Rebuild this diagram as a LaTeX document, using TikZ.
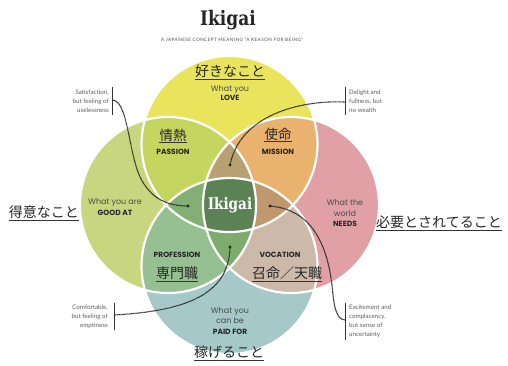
\documentclass[tikz,border=0pt]{standalone}
\usepackage{fontspec}
\newfontfamily\pop{Poppins}
\newfontfamily\jp{Noto Sans CJK JP}
\newfontfamily\lat{Lato}
\newfontfamily\slab{DejaVu Serif}
\definecolor{cTop}{RGB}{233,228,92}
\definecolor{cLeft}{RGB}{200,214,128}
\definecolor{cRight}{RGB}{224,160,165}
\definecolor{cBot}{RGB}{166,200,200}
\definecolor{cTL}{RGB}{196,214,96}
\definecolor{cTR}{RGB}{233,178,110}
\definecolor{cBL}{RGB}{150,192,145}
\definecolor{cBR}{RGB}{205,185,170}
\definecolor{cTLR}{RGB}{185,160,115}
\definecolor{cTRB}{RGB}{192,152,110}
\definecolor{cTLB}{RGB}{130,175,115}
\definecolor{cLRB}{RGB}{125,172,110}
\definecolor{cIk}{RGB}{90,130,85}
\definecolor{txtgray}{RGB}{75,75,75}
\definecolor{anngray}{RGB}{95,95,95}
\begin{document}
\begin{tikzpicture}[x=1pt,y=-1pt,
  jplab/.style={inner sep=0pt,font=\jp\fontsize{14}{16}\selectfont,text=black!85},
  enlab/.style={align=center,inner sep=0pt,text=txtgray,font=\pop\fontsize{8}{10.5}\selectfont},
  boldlab/.style={inner sep=0pt,text=black!85,font=\pop\bfseries\fontsize{7.5}{9}\selectfont},
  annot/.style={inner sep=0pt,text=anngray,font=\lat\fontsize{6.2}{9}\selectfont},
  bar/.style={line width=0.8pt,black!80},
  conn/.style={line width=1.1pt,black!85,dash pattern=on 0.7pt off 0.45pt},
  dotmark/.style={black!85},
  ring/.style={white,line width=2.2pt}]
\useasboundingbox (0,0) rectangle (508,365);
\fill[white] (0,0) rectangle (508,365);
\coordinate (T) at (229.5,144);
\coordinate (B) at (229.5,266);
\coordinate (L) at (168,205);
\coordinate (R) at (291,205);
\def\rr{88pt}
% single circles
\fill[cTop] (T) circle[radius=\rr];
\fill[cLeft] (L) circle[radius=\rr];
\fill[cRight] (R) circle[radius=\rr];
\fill[cBot] (B) circle[radius=\rr];
% pairs
\begin{scope}\clip (T) circle[radius=\rr];
  \fill[cTL] (L) circle[radius=\rr];
  \fill[cTR] (R) circle[radius=\rr];
\end{scope}
\begin{scope}\clip (B) circle[radius=\rr];
  \fill[cBL] (L) circle[radius=\rr];
  \fill[cBR] (R) circle[radius=\rr];
\end{scope}
% triples
\begin{scope}\clip (T) circle[radius=\rr]; \clip (L) circle[radius=\rr];
  \fill[cTLR] (R) circle[radius=\rr];
\end{scope}
\begin{scope}\clip (T) circle[radius=\rr]; \clip (R) circle[radius=\rr];
  \fill[cTRB] (B) circle[radius=\rr];
\end{scope}
\begin{scope}\clip (T) circle[radius=\rr]; \clip (L) circle[radius=\rr];
  \fill[cTLB] (B) circle[radius=\rr];
\end{scope}
\begin{scope}\clip (B) circle[radius=\rr]; \clip (L) circle[radius=\rr];
  \fill[cLRB] (R) circle[radius=\rr];
\end{scope}
% all four
\begin{scope}\clip (T) circle[radius=\rr]; \clip (L) circle[radius=\rr]; \clip (R) circle[radius=\rr];
  \fill[cIk] (B) circle[radius=\rr];
\end{scope}
% white rings
\draw[ring] (T) circle[radius=\rr];
\draw[ring] (L) circle[radius=\rr];
\draw[ring] (R) circle[radius=\rr];
\draw[ring] (B) circle[radius=\rr];

% title
\node[inner sep=0pt,font=\slab\bfseries\fontsize{20}{24}\selectfont,text=black!85] (title) at (228,20) {\scalebox{0.85}[1]{Ikigai}};
\node[inner sep=0pt,text=black!70,font=\lat\fontsize{4.6}{6}\selectfont\addfontfeature{LetterSpace=10}] (subtitle) at (232,40) {A JAPANESE CONCEPT MEANING "A REASON FOR BEING"};

% Japanese labels
\node[jplab] (jlove) at (230,71) {好きなこと};
\node[jplab] (jgood) at (44,212) {得意なこと};
\node[jplab] (jneed) at (439,222) {必要とされてること};
\node[jplab] (jpaid) at (229,352) {稼げること};
\node[jplab,font=\jp\fontsize{13.5}{16}\selectfont] (jpass) at (173,135) {情熱};
\node[jplab,font=\jp\fontsize{13.5}{16}\selectfont] (jmiss) at (278,134) {使命};
\node[jplab] (jprof) at (177,273) {専門職};
\node[jplab] (jvoc) at (287,273) {召命／天職};
\foreach \n in {jlove,jgood,jneed,jpaid,jpass,jmiss,jprof,jvoc}{
  \draw[black!80,line width=0.6pt] ([yshift=-2.6pt]\n.base west) -- ([yshift=-2.6pt]\n.base east);
}

% English labels
\node[enlab] (love) at (230,93) {What you\\[-1pt]{\bfseries\fontsize{7.5}{9}\selectfont\color{black!85}LOVE}};
\node[enlab] (good) at (115,207) {What you are\\{\bfseries\fontsize{7.5}{9}\selectfont\color{black!85}GOOD AT}};
\node[enlab] (need) at (345,213.5) {What the\\world\\{\bfseries\fontsize{7.5}{9}\selectfont\color{black!85}NEEDS}};
\node[enlab] (paid) at (230,321) {What you\\can be\\{\bfseries\fontsize{7.5}{9}\selectfont\color{black!85}PAID FOR}};
\node[boldlab] (pass) at (173,152) {PASSION};
\node[boldlab] (miss) at (278,152) {MISSION};
\node[boldlab] (prof) at (177,255) {PROFESSION};
\node[boldlab] (voc) at (280,255) {VOCATION};
\node[inner sep=0pt,text=white,font=\slab\bfseries\fontsize{16}{18}\selectfont] (ikigai) at (230,205) {\scalebox{0.85}[1]{Ikigai}};

% annotations
\node[annot,align=right,anchor=east] (aS) at (109,101) {Satisfaction,\\but feeling of\\uselessness};
\node[annot,align=left,anchor=west] (aD) at (349,101) {Delight and\\fullness, but\\no wealth};
\node[annot,align=right,anchor=east] (aC) at (108,317) {Comfortable,\\but feeling of\\emptiness};
\node[annot,align=left,anchor=west] (aE) at (349,321.5) {Excitement and\\complacency,\\but sense of\\uncertainty};

\coordinate (bS1) at (112,87);  \coordinate (bS2) at (112,115);
\coordinate (bD1) at (345,87);  \coordinate (bD2) at (345,115);
\coordinate (bC1) at (114,303); \coordinate (bC2) at (114,330);
\coordinate (bE1) at (345,303); \coordinate (bE2) at (345,340);
\draw[bar] (bS1) -- (bS2);
\draw[bar] (bD1) -- (bD2);
\draw[bar] (bC1) -- (bC2);
\draw[bar] (bE1) -- (bE2);

\coordinate (barS) at (112,100);
\coordinate (barD) at (345,102);
\coordinate (barC) at (114,315);
\coordinate (barE) at (345,320);
\coordinate (dotS) at (188,206);
\coordinate (dotD) at (230,165);
\coordinate (dotC) at (230,247);
\coordinate (dotE) at (270,206);
\coordinate (midS) at (140,177);
\coordinate (midE) at (333,295);

\draw[conn] (barS) .. controls (128,100) and (128,150) .. (midS) .. controls (150,197) and (165,206) .. (dotS);
\draw[conn] (barD) .. controls (300,100) and (240,115) .. (dotD);
\draw[conn] (barC) .. controls (185,311) and (229,295) .. (dotC);
\draw[conn] (dotE) .. controls (320,210) and (330,260) .. (midE) .. controls (335,315) and (340,320) .. (barE);
\foreach \d in {dotS,dotD,dotC,dotE}{ \fill[dotmark] (\d) circle[radius=1.6pt]; }
\end{tikzpicture}
\end{document}
